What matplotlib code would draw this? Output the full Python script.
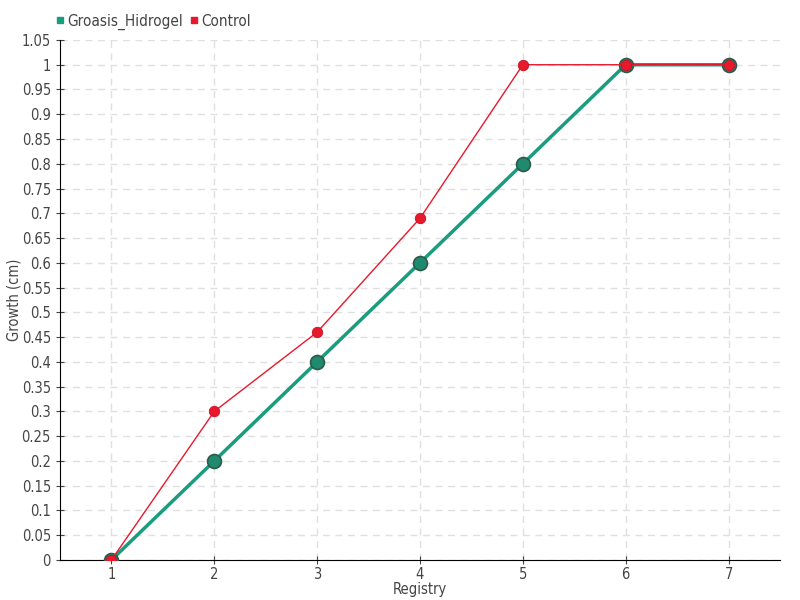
import matplotlib
matplotlib.use("Agg")
import matplotlib.pyplot as plt
from matplotlib.ticker import FuncFormatter, MultipleLocator
from matplotlib.lines import Line2D

registry = [1, 2, 3, 4, 5, 6, 7]
groasis = [0, 0.2, 0.4, 0.6, 0.8, 1.0, 1.0]
control = [0, 0.3, 0.46, 0.69, 1.0, 1.0, 1.0]

plt.rcParams['font.family'] = ['DejaVu Sans']
plt.rcParams['font.stretch'] = 'condensed'
fig = plt.figure(figsize=(8, 6), dpi=100)
ax = fig.add_axes([0.075, 0.0667, 0.9, 0.8667])

green = '#1a9c7e'
red = '#e8192c'
ax.plot(registry, groasis, color=green, lw=2.5, marker='o', ms=10,
        mfc='#1f8a6e', mec='#2d5a4a', mew=1.2, zorder=3)
ax.plot(registry, control, color=red, lw=1, marker='o', ms=7.5,
        mfc=red, mec='#c8101f', mew=0.6, zorder=4)

ax.set_xlim(0.5, 7.5)
ax.set_ylim(0, 1.05)
ax.yaxis.set_major_locator(MultipleLocator(0.05))
ax.xaxis.set_major_locator(MultipleLocator(1))
ax.yaxis.set_major_formatter(FuncFormatter(lambda v, p: ('%.2f' % v).rstrip('0').rstrip('.') if v != 0 else '0'))
ax.grid(True, color='#e0e0e0', ls=(0, (5, 4)), lw=1)
ax.set_axisbelow(True)
for s in ['top', 'right']:
    ax.spines[s].set_visible(False)
ax.spines['left'].set_color('black')
ax.spines['bottom'].set_color('black')
ax.tick_params(axis='both', direction='inout', length=6, labelsize=10.5, colors='#444444')
ax.tick_params(axis='x', pad=2)
ax.set_xlabel('Registry', fontsize=10.5, color='#444444', labelpad=0)
ax.set_ylabel('Growth (cm)', fontsize=10.5, color='#444444')
ax.yaxis.set_label_coords(-0.053, 0.5)

handles = [Line2D([], [], ls='none', marker='s', ms=5, color=green),
           Line2D([], [], ls='none', marker='s', ms=5, color=red)]
fig.legend(handles, ['Groasis_Hidrogel', 'Control'], loc='upper left',
           bbox_to_anchor=(0.05, 1.0), ncol=2, frameon=False, fontsize=11,
           handletextpad=0.1, columnspacing=0.3, labelcolor='#444444', handlelength=0.8)

fig.savefig('out.png', dpi=100)
